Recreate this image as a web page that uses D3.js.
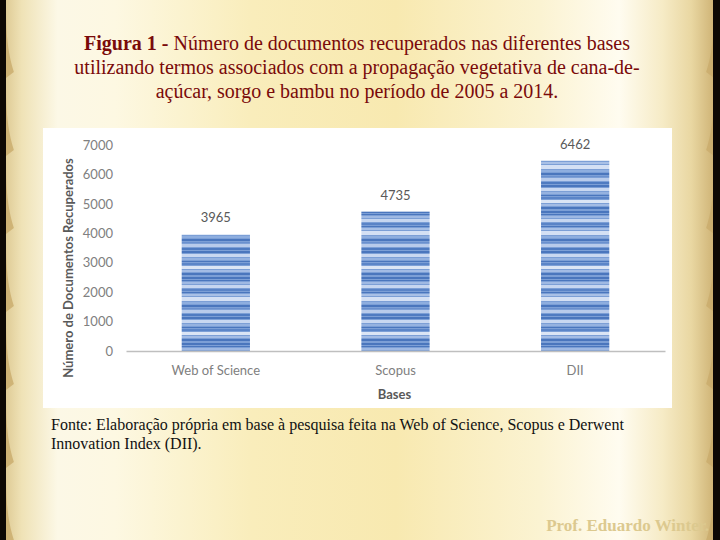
<!DOCTYPE html>
<html>
<head>
<meta charset="utf-8">
<script src="https://cdn.jsdelivr.net/npm/d3@7"></script>
<style>
  html, body { margin: 0; padding: 0; overflow: hidden; width: 720px; height: 540px; }
  svg { display: block; }
</style>
</head>
<body>
<div class="chart"></div>
<script>
var categories = ["Web of Science", "Scopus", "DII"];
var values = [3965, 4735, 6462];
var yTicks = [0, 1000, 2000, 3000, 4000, 5000, 6000, 7000];
var titleLines = [
  ["Figura 1 - ", "Número de documentos recuperados nas diferentes bases"],
  ["", "utilizando termos associados com a propagação vegetativa de cana-de-"],
  ["", "açúcar, sorgo e bambu no período de 2005 a 2014."]
];
var sourceLines = [
  "Fonte: Elaboração própria em base à pesquisa feita na Web of Science, Scopus e Derwent",
  "Innovation Index (DII)."
];

var svgWidth = 720;
var svgHeight = 540;

var svg = d3.select(".chart")
    .append("svg")
    .attr("width", svgWidth)
    .attr("height", svgHeight);

var defs = svg.append("defs");

// parchment background
var bg = defs.append("linearGradient")
    .attr("id", "paper")
    .attr("x1", 0).attr("x2", 1).attr("y1", 0).attr("y2", 0);
[[0, "#d9c38a"], [0.03, "#efe2b6"], [0.08, "#fcf8e6"], [0.16, "#fdf8e2"],
 [0.35, "#f9edbb"], [0.55, "#f8e9b0"], [0.75, "#fbf3d2"], [0.86, "#fffcf0"],
 [0.92, "#f6ebc6"], [0.96, "#e9d7a2"], [1, "#c8aa6a"]].forEach(function(s) {
    bg.append("stop").attr("offset", s[0]).attr("stop-color", s[1]);
});

svg.append("rect")
    .attr("width", svgWidth)
    .attr("height", svgHeight)
    .attr("fill", "url(#paper)");

// torn dark edges
function edge(xOuter, dir) {
    var pts = [];
    for (var y = 0; y <= svgHeight; y += 6) {
        var k = (y % 78) / 78;
        var w = 6 + 10 * Math.pow(k, 3);
        pts.push([xOuter + dir * w, y]);
    }
    return "M" + xOuter + ",0 " + pts.map(function(d) { return "L" + d[0] + "," + d[1]; }).join(" ") + " L" + xOuter + "," + svgHeight + " Z";
}
svg.append("path").attr("d", edge(0, 1)).attr("fill", "#c9ab6c").attr("opacity", 0.8);
svg.append("path").attr("d", edge(720, -1)).attr("fill", "#c9ab6c").attr("opacity", 0.8);
svg.append("rect").attr("x", 0).attr("y", 0).attr("width", 6).attr("height", svgHeight).attr("fill", "#0d0804");
svg.append("rect").attr("x", 713).attr("y", 0).attr("width", 7).attr("height", svgHeight).attr("fill", "#0d0804");

// title
var title = svg.append("text")
    .attr("text-anchor", "middle")
    .attr("font-family", "Liberation Serif, Times New Roman, serif")
    .attr("font-size", "20px")
    .attr("fill", "#7a0a0a");
titleLines.forEach(function(line, i) {
    var t = title.append("tspan")
        .attr("x", 357)
        .attr("y", 50 + i * 24);
    if (line[0]) t.append("tspan").attr("font-weight", "bold").text(line[0]);
    t.append("tspan").text(line[1]);
});

// chart panel
svg.append("rect")
    .attr("x", 43).attr("y", 128)
    .attr("width", 629).attr("height", 280)
    .attr("fill", "#ffffff");

// striped bar fill
var pat = defs.append("pattern")
    .attr("id", "stripes")
    .attr("patternUnits", "userSpaceOnUse")
    .attr("width", 10).attr("height", 66);
pat.append("rect").attr("width", 10).attr("height", 66).attr("fill", "#7c9fd6");
var stripes = [[0, 2, "#4a76bd"], [3, 1, "#4a76bd"], [5, 2, "#9fb9e3"], [8, 3, "#c6d6f0"],
    [12, 2, "#5a84c7"], [15, 1, "#4a76bd"], [17, 2, "#a8c0e6"], [20, 4, "#d4e0f4"],
    [25, 2, "#8eaedf"], [28, 2, "#4a76bd"], [31, 1, "#6a90ce"], [33, 3, "#b8cbeb"],
    [37, 2, "#4f7bc1"], [40, 2, "#4a76bd"], [43, 3, "#c9d8f1"], [47, 2, "#95b2e0"],
    [50, 1, "#4a76bd"], [52, 2, "#5b85c8"], [55, 3, "#dbe5f5"], [59, 2, "#a3bce5"],
    [62, 2, "#4a76bd"]];
stripes.forEach(function(s) {
    pat.append("rect").attr("x", 0).attr("y", s[0]).attr("width", 10).attr("height", s[1]).attr("fill", s[2]);
});

var margin = { top: 145, left: 126 };
var width = 539;
var height = 206;

var chartGroup = svg.append("g")
    .attr("transform", `translate(${margin.left}, ${margin.top})`);

var xScale = d3.scaleBand()
    .domain(categories)
    .range([0, width])
    .paddingInner(0.62)
    .paddingOuter(0.31);

var yScale = d3.scaleLinear()
    .domain([0, 7000])
    .range([height, 0]);

// y axis: labels only
var leftAxis = d3.axisLeft(yScale).tickValues(yTicks).tickFormat(d3.format("d")).tickSize(0).tickPadding(13);
var yAxis = chartGroup.append("g").call(leftAxis);
yAxis.select(".domain").remove();
yAxis.selectAll("text")
    .attr("font-family", "Lato, Open Sans, sans-serif")
    .attr("font-size", "13px")
    .attr("fill", "#808080");

// bars
chartGroup.selectAll(".bar")
    .data(values)
    .join("rect")
    .classed("bar", true)
    .attr("x", (d, i) => xScale(categories[i]))
    .attr("y", d => yScale(d))
    .attr("width", xScale.bandwidth())
    .attr("height", d => height - yScale(d))
    .attr("fill", "url(#stripes)");

// x axis
var bottomAxis = d3.axisBottom(xScale).tickSize(0).tickPadding(15);
var xAxis = chartGroup.append("g")
    .attr("transform", `translate(0, ${height})`)
    .call(bottomAxis);
xAxis.select(".domain").attr("stroke", "#bfbfbf").attr("stroke-width", 1.5);
xAxis.selectAll("text")
    .attr("font-family", "Lato, Open Sans, sans-serif")
    .attr("font-size", "13px")
    .attr("fill", "#808080");

// value labels
chartGroup.selectAll(".val")
    .data(values)
    .join("text")
    .classed("val", true)
    .attr("x", (d, i) => xScale(categories[i]) + xScale.bandwidth() / 2)
    .attr("y", d => yScale(d) - 12)
    .attr("text-anchor", "middle")
    .attr("font-family", "Lato, Open Sans, sans-serif")
    .attr("font-size", "13px")
    .attr("fill", "#595959")
    .text(d => d);

// axis titles
chartGroup.append("text")
    .attr("x", width / 2 - 1)
    .attr("y", height + 48)
    .attr("text-anchor", "middle")
    .attr("font-family", "Lato, Open Sans, sans-serif")
    .attr("font-weight", "bold")
    .attr("font-size", "13px")
    .attr("fill", "#595959")
    .text("Bases");

chartGroup.append("text")
    .attr("transform", "rotate(-90)")
    .attr("x", -123)
    .attr("y", -53)
    .attr("text-anchor", "middle")
    .attr("font-family", "Lato, Open Sans, sans-serif")
    .attr("font-weight", "bold")
    .attr("font-size", "13px")
    .attr("fill", "#595959")
    .text("Número de Documentos Recuperados");

// source note
sourceLines.forEach(function(line, i) {
    svg.append("text")
        .attr("x", 51)
        .attr("y", 430 + i * 19)
        .attr("font-family", "Liberation Serif, Times New Roman, serif")
        .attr("font-size", "16px")
        .attr("fill", "#111111")
        .text(line);
});

svg.append("text")
    .attr("x", 709)
    .attr("y", 531)
    .attr("text-anchor", "end")
    .attr("font-family", "Liberation Serif, Times New Roman, serif")
    .attr("font-weight", "bold")
    .attr("font-size", "17px")
    .attr("fill", "#dcc98f")
    .text("Prof. Eduardo Winter.");
</script>
</body>
</html>
